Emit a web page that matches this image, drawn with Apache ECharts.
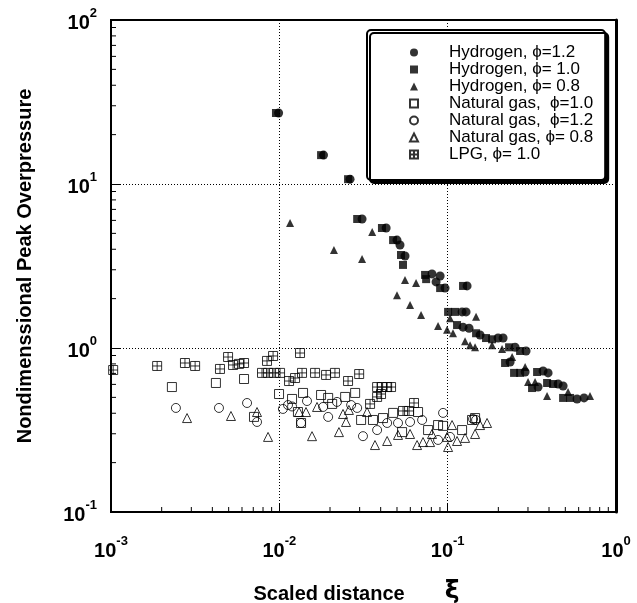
<!DOCTYPE html>
<html>
<head>
<meta charset="utf-8">
<script src="https://cdn.jsdelivr.net/npm/echarts@6/dist/echarts.min.js"></script>
<style>html,body{margin:0;padding:0;background:#fff}#c{width:637px;height:603px}</style>
</head>
<body>
<div id="c"></div>
<script>
// ---- data (scaled distance xi, nondimensional peak overpressure) ----
const seriesNames = [
  "Hydrogen, \u03D5=1.2",
  "Hydrogen, \u03D5= 1.0",
  "Hydrogen, \u03D5= 0.8",
  "Natural gas,  \u03D5=1.0",
  "Natural gas,  \u03D5=1.2",
  "Natural gas, \u03D5= 0.8",
  "LPG, \u03D5= 1.0"
];

const h2_12_x = [0.0099, 0.0183, 0.0263, 0.031, 0.0431, 0.0500, 0.0521, 0.0558, 0.0807, 0.0853, 0.0902, 0.0965, 0.1304, 0.1218, 0.1286, 0.1234, 0.134, 0.1558, 0.1993, 0.2134, 0.2515, 0.2922, 0.2349, 0.2884, 0.3688, 0.395, 0.453, 0.485, 0.3443, 0.587, 0.646];
const h2_12_y = [27.1, 15.0, 10.7, 6.12, 5.39, 4.55, 4.25, 3.64, 2.83, 2.53, 2.75, 2.32, 2.39, 1.66, 1.66, 1.34, 1.32, 1.20, 1.15, 1.15, 1.01, 0.959, 0.822, 0.714, 0.724, 0.705, 0.603, 0.587, 0.578, 0.489, 0.496];

const h2_10_x = [0.00955, 0.0177, 0.0256, 0.029, 0.0407, 0.0474, 0.0528, 0.0543, 0.0734, 0.0745, 0.0902, 0.1234, 0.1006, 0.1107, 0.1137, 0.1475, 0.169, 0.1836, 0.2317, 0.2693, 0.2193, 0.248, 0.2693, 0.3398, 0.3896, 0.4229, 0.3172, 0.485, 0.534];
const h2_10_y = [27.1, 15.0, 10.7, 6.12, 5.39, 4.55, 3.69, 3.21, 2.79, 2.63, 2.32, 2.39, 1.66, 1.66, 1.38, 1.23, 1.15, 1.13, 1.01, 0.959, 0.81, 0.705, 0.705, 0.714, 0.612, 0.603, 0.570, 0.496, 0.496];

const h2_08_x = [0.01158, 0.0211, 0.031, 0.0356, 0.0558, 0.0649, 0.0500, 0.0598, 0.0695, 0.0877, 0.0992, 0.1033, 0.1076, 0.1475, 0.1269, 0.1358, 0.1455, 0.1836, 0.2105, 0.2414, 0.2884, 0.3004, 0.3306, 0.3896, 0.519, 0.701];
const h2_08_y = [5.78, 3.96, 3.49, 5.10, 2.60, 2.49, 2.10, 1.83, 1.59, 1.36, 1.29, 1.52, 1.23, 1.55, 1.10, 1.04, 1.01, 1.04, 0.986, 0.881, 0.766, 0.62, 0.62, 0.51, 0.539, 0.51];

const ng_10_x = [0.0023, 0.0042, 0.00617, 0.00707, 0.00996, 0.0119, 0.01383, 0.01346, 0.0177, 0.0195, 0.0129, 0.0206, 0.0306, 0.036, 0.0246, 0.0282, 0.0413, 0.0474, 0.0667, 0.0536, 0.0765, 0.0877, 0.0939, 0.1218, 0.1396, 0.1455];
const ng_10_y = [0.578, 0.612, 0.647, 0.38, 0.524, 0.489, 0.532, 0.349, 0.517, 0.496, 0.407, 0.456, 0.364, 0.364, 0.503, 0.532, 0.374, 0.402, 0.407, 0.307, 0.316, 0.339, 0.335, 0.316, 0.364, 0.374];

const ng_12_x = [0.00243, 0.00438, 0.00643, 0.00737, 0.0105, 0.01126, 0.0119, 0.0146, 0.01346, 0.0182, 0.0195, 0.022, 0.0267, 0.029, 0.0314, 0.0381, 0.0437, 0.0507, 0.0598, 0.0705, 0.0877, 0.0939, 0.1033, 0.1416, 0.1475];
const ng_12_y = [0.431, 0.431, 0.462, 0.354, 0.425, 0.449, 0.44, 0.475, 0.349, 0.437, 0.38, 0.469, 0.449, 0.431, 0.29, 0.316, 0.349, 0.349, 0.354, 0.364, 0.275, 0.402, 0.287, 0.369, 0.364];

const ng_08_x = [0.00283, 0.00516, 0.00737, 0.00857, 0.0144, 0.0131, 0.01564, 0.01675, 0.0226, 0.0239, 0.0249, 0.0259, 0.0332, 0.037, 0.0437, 0.0507, 0.0598, 0.0658, 0.0714, 0.0786, 0.0807, 0.0992, 0.1062, 0.1137, 0.1269, 0.1455, 0.1558, 0.1714, 0.1006];
const ng_08_y = [0.374, 0.385, 0.407, 0.287, 0.407, 0.407, 0.29, 0.437, 0.307, 0.396, 0.354, 0.419, 0.407, 0.256, 0.271, 0.295, 0.299, 0.256, 0.267, 0.267, 0.299, 0.287, 0.339, 0.271, 0.283, 0.299, 0.339, 0.349, 0.249];

const lpg_x = [0.00103, 0.00188, 0.00275, 0.00316, 0.00496, 0.00444, 0.00531, 0.00576, 0.00617, 0.00845, 0.00918, 0.01327, 0.00789, 0.00857, 0.0093, 0.0101, 0.01142, 0.0124, 0.01364, 0.0163, 0.01895, 0.0214, 0.0256, 0.0298, 0.0381, 0.0407, 0.0437, 0.0461, 0.0381, 0.0402, 0.0346, 0.0543, 0.059, 0.0631];
const lpg_y = [0.734, 0.777, 0.81, 0.777, 0.881, 0.745, 0.788, 0.8, 0.81, 0.834, 0.894, 0.932, 0.705, 0.705, 0.705, 0.705, 0.629, 0.656, 0.705, 0.705, 0.685, 0.705, 0.629, 0.694, 0.578, 0.578, 0.578, 0.578, 0.503, 0.524, 0.456, 0.413, 0.413, 0.462];

// axis ranges and minor tick positions
const X_MIN = 0.001, X_MAX = 1;
const Y_MIN = 0.1, Y_MAX = 100;
const xMinorTicks = [0.002,0.003,0.004,0.005,0.006,0.007,0.008,0.009,0.02,0.03,0.04,0.05,0.06,0.07,0.08,0.09,0.2,0.3,0.4,0.5,0.6,0.7,0.8,0.9];
const yMinorTicks = [0.2,0.3,0.4,0.5,0.6,0.7,0.8,0.9,2,3,4,5,6,7,8,9,20,30,40,50,60,70,80,90];

const FONT = "'Liberation Sans', Arial, Helvetica, sans-serif";
const zip = (xs, ys) => xs.map((x, i) => [x, ys[i]]);

const chart = echarts.init(document.getElementById('c'), null, {renderer: 'canvas'});

const powLabel = v => {
  const e = Math.round(Math.log10(v));
  return '{b|10}{s|' + e + '}';
};
const labelRich = {
  b: {fontSize: 20, fontWeight: 'bold', fontFamily: FONT, color: '#000', lineHeight: 26, verticalAlign: 'bottom'},
  s: {fontSize: 13, fontWeight: 'bold', fontFamily: FONT, color: '#000', lineHeight: 26, verticalAlign: 'top'}
};

const openStyle = {color: 'rgba(0,0,0,0)', borderColor: '#000', borderWidth: 1};
const filledStyle = {color: '#000'};
const LPG_SYMBOL = 'path://M0,0H10V10H0ZM5,0V10M0,5H10';

const minorTickSeries = (vals, isX) => ({
  type: 'custom',
  silent: true,
  clip: false,
  z: 5,
  data: vals.map(v => isX ? [v, Y_MIN] : [X_MIN, v]),
  renderItem: (params, api) => {
    const p = api.coord([api.value(0), api.value(1)]);
    const len = 5;
    const shape = isX ? {x1: p[0], y1: p[1], x2: p[0], y2: p[1] - len}
                      : {x1: p[0], y1: p[1], x2: p[0] + len, y2: p[1]};
    return {type: 'line', shape: shape, style: {stroke: '#000', lineWidth: 1}};
  }
});

chart.setOption({
  animation: false,
  backgroundColor: '#fff',
  grid: {left: 111, right: 21, top: 20, bottom: 91, outerBoundsMode: 'none', containLabel: false,
         show: true, borderColor: '#000', borderWidth: 2, backgroundColor: 'transparent'},
  xAxis: {
    type: 'log', logBase: 10, min: X_MIN, max: X_MAX,
    name: '{a|Scaled distance}{g|\u03BE}',
    nameLocation: 'middle', nameGap: 69,
    nameTextStyle: {
      padding: [0, 14, 0, 0],
      rich: {
        a: {fontSize: 20, fontWeight: 'bold', fontFamily: FONT, color: '#000', lineHeight: 26},
        g: {fontSize: 25, fontWeight: 'bold', fontFamily: 'DejaVu Sans', color: '#000', lineHeight: 26, padding: [0, 0, 6, 40]}
      }
    },
    axisLine: {show: true, lineStyle: {color: '#000', width: 2}},
    axisTick: {show: true, inside: true, length: 9, lineStyle: {color: '#000', width: 1}},
    axisLabel: {margin: 23, formatter: powLabel, rich: labelRich},
    splitLine: {show: true, lineStyle: {color: '#000', type: [1, 2], width: 1}},
    minorTick: {show: false}
  },
  yAxis: [{
    type: 'log', logBase: 10, min: Y_MIN, max: Y_MAX,
    name: 'Nondimenssional Peak Overpressure',
    nameLocation: 'middle', nameGap: 76, nameRotate: 90,
    nameTextStyle: {fontSize: 20, fontWeight: 'bold', fontFamily: FONT, color: '#000'},
    axisLine: {show: true, lineStyle: {color: '#000', width: 2}},
    axisTick: {show: true, inside: true, length: 9, lineStyle: {color: '#000', width: 1}},
    axisLabel: {margin: 14, formatter: powLabel, rich: labelRich},
    splitLine: {show: true, lineStyle: {color: '#000', type: [1, 2], width: 1}}
  }, {
    type: 'log', logBase: 10, min: Y_MIN, max: Y_MAX, position: 'right',
    axisLine: {show: true, onZero: false, lineStyle: {color: '#000', width: 3}},
    axisTick: {show: false}, axisLabel: {show: false}, splitLine: {show: false}
  }],
  legend: {
    data: seriesNames,
    orient: 'vertical',
    left: 367, top: 30,
    padding: [14, 12, 17, 42],
    itemWidth: 8, itemHeight: 8, itemGap: 0,
    backgroundColor: '#fff',
    borderColor: '#000', borderWidth: 2, borderRadius: 4,
    shadowColor: '#000', shadowBlur: 0.1, shadowOffsetX: 3, shadowOffsetY: 3,
    formatter: name => '{p|}' + name,
    textStyle: {
      fontSize: 17, lineHeight: 15.5, fontFamily: FONT, color: '#000',
      rich: {p: {width: 26, lineHeight: 15.5}}
    },
    selectedMode: false
  },
  series: [
    {name: seriesNames[0], type: 'scatter', symbol: 'circle', symbolSize: 9, itemStyle: filledStyle, data: zip(h2_12_x, h2_12_y), z: 3},
    {name: seriesNames[1], type: 'scatter', symbol: 'rect', symbolSize: 8, itemStyle: filledStyle, data: zip(h2_10_x, h2_10_y), z: 3},
    {name: seriesNames[2], type: 'scatter', symbol: 'triangle', symbolSize: 8, itemStyle: filledStyle, data: zip(h2_08_x, h2_08_y), z: 3},
    {name: seriesNames[3], type: 'scatter', symbol: 'rect', symbolSize: 9, itemStyle: openStyle, data: zip(ng_10_x, ng_10_y), z: 2},
    {name: seriesNames[4], type: 'scatter', symbol: 'circle', symbolSize: 9, itemStyle: openStyle, data: zip(ng_12_x, ng_12_y), z: 2},
    {name: seriesNames[5], type: 'scatter', symbol: 'triangle', symbolSize: 9, itemStyle: openStyle, data: zip(ng_08_x, ng_08_y), z: 2},
    {name: seriesNames[6], type: 'scatter', symbol: LPG_SYMBOL, symbolSize: 9, itemStyle: openStyle, data: zip(lpg_x, lpg_y), z: 2},
    minorTickSeries(xMinorTicks, true),
    minorTickSeries(yMinorTicks, false)
  ]
});
</script>
</body>
</html>
